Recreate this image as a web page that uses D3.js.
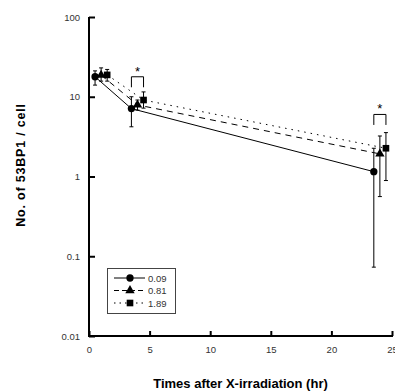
<!DOCTYPE html>
<html>
<head>
<meta charset="utf-8">
<script src="https://cdn.jsdelivr.net/npm/d3@7"></script>
<style>
  body { margin: 0; background: #fff; }
  text { font-family: 'Liberation Sans', Arial, sans-serif; }
</style>
</head>
<body>
<div id="chart"></div>
<script>
const WIDTH = 395;
const HEIGHT = 391;
const MARGIN = { left: 89, right: 3, top: 17, bottom: 55 };

// doses (Gy) and times (hr)
const doses = ['0.09', '0.81', '1.89'];
const times = [[0.5, 3.5, 23.5], [1.0, 4.0, 24.0], [1.5, 4.5, 24.5]];
const means = [[17.8, 7.1, 1.15], [18.7, 7.9, 1.92], [18.8, 9.1, 2.26]];
const upper = [[21.1, 10.0, 2.26], [23.0, 9.1, 3.22], [22.0, 11.5, 3.55]];
const lower = [[14.0, 4.2, 0.073], [15.7, 6.8, 0.56], [15.7, 7.2, 0.89]];
const xTicks = [0, 5, 10, 15, 20, 25];
const yTicks = [0.01, 0.1, 1, 10, 100];
const yTickLabels = ['0.01', '0.1', '1', '10', '100'];
// significance brackets: [from time, to time, bracket top value]
const brackets = [[3.5, 4.5, 17.8], [23.5, 24.5, 6.0]];

const DASHES = [null, '6,5', '1.5,5'];
const LEGEND_DASHES = [null, '5,3', '1.5,4'];
const SYMBOLS = [d3.symbolCircle, d3.symbolTriangle, d3.symbolSquare];
const SYMBOL_SIZES = [42, 38, 44];

const svg = d3.select('#chart').append('svg')
  .attr('width', WIDTH)
  .attr('height', HEIGHT);

const x = d3.scaleLinear().domain([0, 25]).range([MARGIN.left, WIDTH - MARGIN.right]);
const y = d3.scaleLog().domain([0.01, 100]).range([HEIGHT - MARGIN.bottom, MARGIN.top]);

// axes
const yAxis = svg.append('g')
  .attr('transform', `translate(${MARGIN.left},0)`)
  .call(d3.axisLeft(y).tickValues(yTicks).tickFormat((d, i) => yTickLabels[i])
    .tickSizeInner(-6).tickSizeOuter(0).tickPadding(9));
yAxis.select('.domain').remove();
yAxis.selectAll('line').attr('stroke-width', 2);
yAxis.selectAll('text').attr('font-size', 9.5).attr('fill', '#333');

const xAxis = svg.append('g')
  .attr('transform', `translate(0,${HEIGHT - MARGIN.bottom})`)
  .call(d3.axisBottom(x).tickValues(xTicks).tickSizeInner(-5).tickSizeOuter(0).tickPadding(10));
xAxis.select('.domain').remove();
xAxis.selectAll('line').attr('stroke-width', 2);
xAxis.selectAll('text').attr('font-size', 9.5).attr('fill', '#333');

svg.append('line')
  .attr('x1', MARGIN.left).attr('x2', MARGIN.left)
  .attr('y1', y(100)).attr('y2', y(0.01) + 1)
  .attr('stroke', '#000').attr('stroke-width', 2);
svg.append('line')
  .attr('x1', MARGIN.left - 1).attr('x2', x(25) + 1)
  .attr('y1', y(0.01)).attr('y2', y(0.01))
  .attr('stroke', '#000').attr('stroke-width', 2);

// series
doses.forEach((dose, s) => {
  const pts = times[s].map((t, i) => ({ t: t, m: means[s][i], hi: upper[s][i], lo: lower[s][i] }));
  const line = d3.line().x(d => x(d.t)).y(d => y(d.m));
  svg.append('path')
    .datum(pts)
    .attr('fill', 'none')
    .attr('stroke', '#000')
    .attr('stroke-width', 1)
    .attr('stroke-dasharray', DASHES[s])
    .attr('d', line);

  const g = svg.append('g');
  pts.forEach(d => {
    g.append('line')
      .attr('x1', x(d.t)).attr('x2', x(d.t))
      .attr('y1', y(d.hi)).attr('y2', y(d.lo))
      .attr('stroke', '#000').attr('stroke-width', 1);
    [d.hi, d.lo].forEach(v => {
      g.append('line')
        .attr('x1', x(d.t) - 2).attr('x2', x(d.t) + 2)
        .attr('y1', y(v)).attr('y2', y(v))
        .attr('stroke', '#000').attr('stroke-width', 1);
    });
    g.append('path')
      .attr('transform', `translate(${x(d.t)},${y(d.m)})`)
      .attr('d', d3.symbol().type(SYMBOLS[s]).size(SYMBOL_SIZES[s])())
      .attr('fill', '#000');
  });
});

// significance brackets
brackets.forEach(b => {
  const yTop = y(b[2]);
  svg.append('path')
    .attr('d', `M${x(b[0])},${yTop + 10.5}V${yTop}H${x(b[1])}V${yTop + 10.5}`)
    .attr('fill', 'none')
    .attr('stroke', '#000')
    .attr('stroke-width', 1);
  svg.append('text')
    .attr('x', (x(b[0]) + x(b[1])) / 2)
    .attr('y', yTop - 1)
    .attr('text-anchor', 'middle')
    .attr('font-size', 13)
    .text('*');
});

// legend
const legend = svg.append('g').attr('transform', 'translate(107,268)');
legend.append('rect')
  .attr('x', 0.5).attr('y', 0.5)
  .attr('width', 68).attr('height', 45)
  .attr('fill', '#fff')
  .attr('stroke', '#444')
  .attr('stroke-width', 1);
doses.forEach((dose, s) => {
  const ly = 10 + s * 12.5;
  legend.append('line')
    .attr('x1', 7).attr('x2', 38)
    .attr('y1', ly).attr('y2', ly)
    .attr('stroke', '#000')
    .attr('stroke-dasharray', LEGEND_DASHES[s]);
  legend.append('path')
    .attr('transform', `translate(23,${ly})`)
    .attr('d', d3.symbol().type(SYMBOLS[s]).size(SYMBOL_SIZES[s])())
    .attr('fill', '#000');
  legend.append('text')
    .attr('x', 41)
    .attr('y', ly + 3.5)
    .attr('font-size', 9.5)
    .attr('fill', '#333')
    .text(dose);
});

// axis titles
svg.append('text')
  .attr('x', (x(0) + x(25)) / 2)
  .attr('y', 388)
  .attr('text-anchor', 'middle')
  .attr('font-size', 13)
  .attr('font-weight', 'bold')
  .text('Times after X-irradiation (hr)');

svg.append('text')
  .attr('transform', 'translate(25,165) rotate(-90)')
  .attr('text-anchor', 'middle')
  .attr('font-size', 12.5)
  .attr('letter-spacing', 0.8)
  .attr('font-weight', 'bold')
  .text('No. of 53BP1 / cell');
</script>
</body>
</html>
